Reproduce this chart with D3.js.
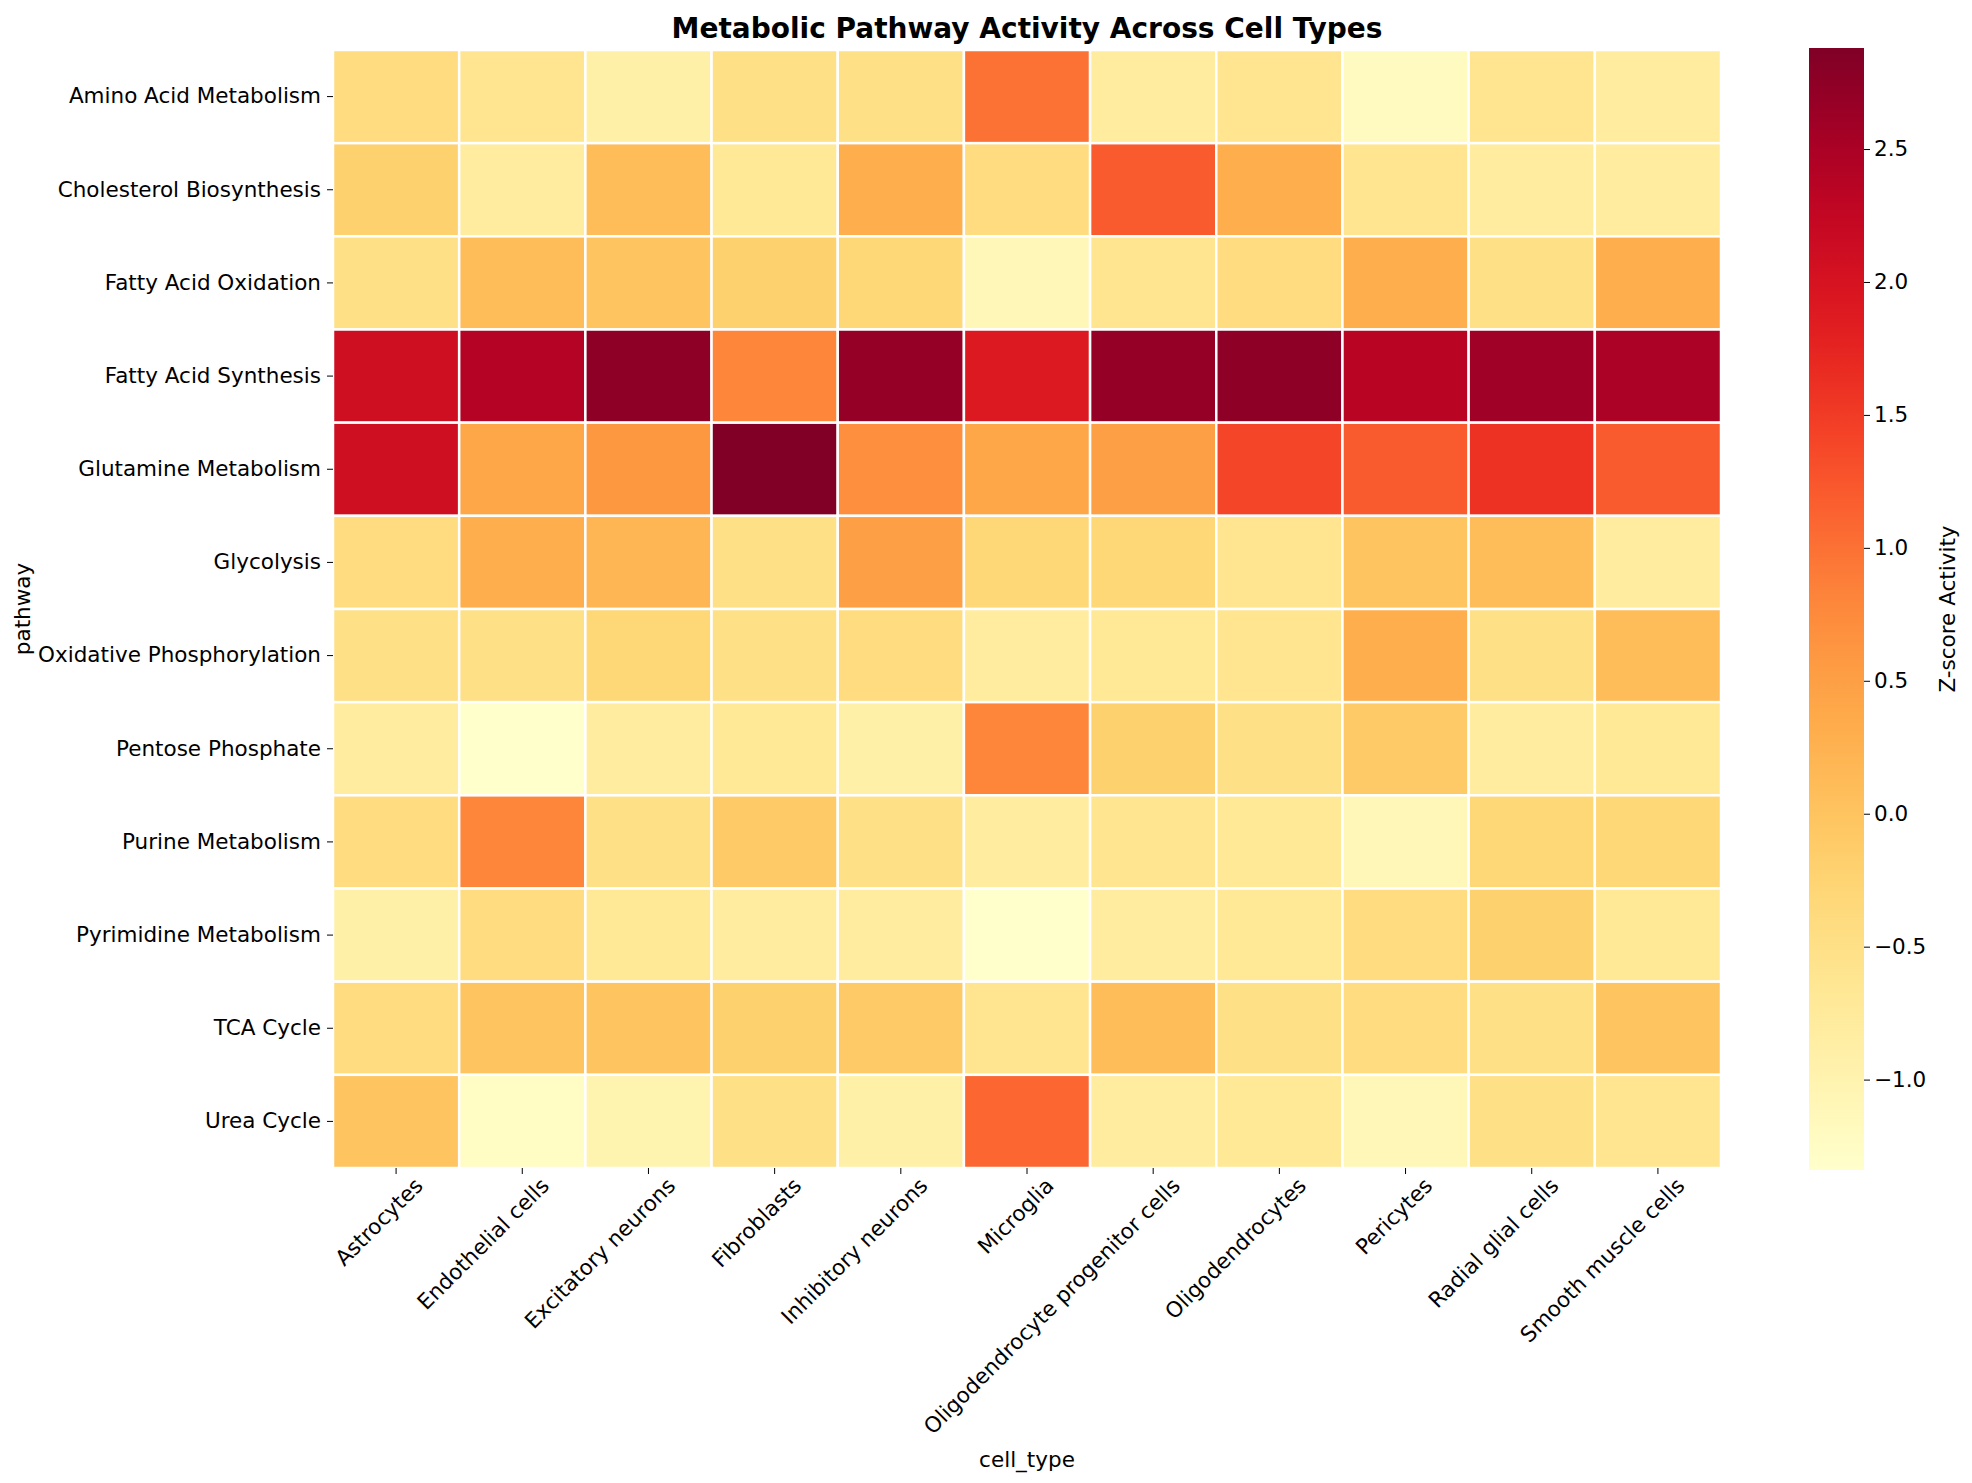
<!DOCTYPE html><html><head><meta charset="utf-8">
<script src="https://cdn.jsdelivr.net/npm/d3@7"></script>
<style>body{margin:0;background:#fff}text{font-family:"DejaVu Sans",sans-serif;fill:#000}</style>
</head><body><svg id="c" width="1972" height="1483"></svg><script>
const cellTypes=["Astrocytes","Endothelial cells","Excitatory neurons","Fibroblasts","Inhibitory neurons","Microglia","Oligodendrocyte progenitor cells","Oligodendrocytes","Pericytes","Radial glial cells","Smooth muscle cells"];
const pathways=["Amino Acid Metabolism","Cholesterol Biosynthesis","Fatty Acid Oxidation","Fatty Acid Synthesis","Glutamine Metabolism","Glycolysis","Oxidative Phosphorylation","Pentose Phosphate","Purine Metabolism","Pyrimidine Metabolism","TCA Cycle","Urea Cycle"];
const values=[
[-0.4,-0.6,-0.9,-0.5,-0.5,1.0,-0.8,-0.6,-1.2,-0.6,-0.8],
[-0.2,-0.8,0.1,-0.7,0.3,-0.4,1.2,0.3,-0.6,-0.8,-0.8],
[-0.5,0.1,0.0,-0.2,-0.3,-1.1,-0.6,-0.4,0.3,-0.5,0.3],
[2.1,2.4,2.75,0.8,2.7,1.9,2.7,2.75,2.35,2.6,2.5],
[2.1,0.4,0.6,2.88,0.7,0.4,0.5,1.4,1.2,1.6,1.2],
[-0.4,0.3,0.2,-0.5,0.5,-0.3,-0.3,-0.6,0.0,0.1,-0.8],
[-0.5,-0.5,-0.3,-0.5,-0.4,-0.8,-0.7,-0.6,0.3,-0.5,0.1],
[-0.8,-1.33,-0.8,-0.7,-0.9,0.8,-0.2,-0.5,-0.1,-0.8,-0.7],
[-0.4,0.8,-0.5,-0.1,-0.5,-0.8,-0.6,-0.7,-1.1,-0.3,-0.3],
[-0.9,-0.4,-0.7,-0.8,-0.8,-1.33,-0.8,-0.7,-0.4,-0.2,-0.7],
[-0.4,0.0,0.0,-0.2,-0.1,-0.6,0.1,-0.5,-0.4,-0.5,0.0],
[0.0,-1.25,-1.0,-0.5,-0.9,1.1,-0.8,-0.7,-1.1,-0.5,-0.6]];
const cbTicks=[-1.0,-0.5,0.0,0.5,1.0,1.5,2.0,2.5];
const vmin=-1.34,vmax=2.88;
const svg=d3.select("#c");
const L=333,R=1721,T=50,B=1168;
const x=d3.scaleBand().domain(cellTypes).range([L,R]);
const y=d3.scaleBand().domain(pathways).range([T,B]);
const col=d3.scaleSequential(d3.interpolateYlOrRd).domain([vmin,vmax]);
const cells=[];values.forEach((r,i)=>r.forEach((v,j)=>cells.push({p:pathways[i],c:cellTypes[j],v})));
svg.append("g").selectAll("rect").data(cells).join("rect")
 .attr("x",d=>x(d.c)).attr("y",d=>y(d.p)).attr("width",x.bandwidth()).attr("height",y.bandwidth())
 .attr("fill",d=>col(d.v)).attr("stroke","#fff").attr("stroke-width",2.5);
const fs="21.5px";
const xa=svg.append("g").attr("transform",`translate(0,${B})`).call(d3.axisBottom(x).tickSize(6).tickSizeOuter(0));
xa.select(".domain").remove();
xa.selectAll("text").style("font-size",fs).attr("text-anchor","end").attr("dx","0.3em").attr("dy","0.9em")
 .attr("transform","rotate(-45)").attr("y",14).attr("x",0);
const ya=svg.append("g").attr("transform",`translate(${L},0)`).call(d3.axisLeft(y).tickSize(6).tickSizeOuter(0));
ya.select(".domain").remove();
ya.selectAll("text").style("font-size",fs).attr("x",-12);
svg.append("text").attr("x",(L+R)/2).attr("y",1467).attr("text-anchor","middle").style("font-size",fs).text("cell_type");
svg.append("text").attr("transform",`translate(30,${(T+B)/2}) rotate(-90)`).attr("text-anchor","middle").style("font-size",fs).text("pathway");
svg.append("text").attr("x",(L+R)/2).attr("y",38).attr("text-anchor","middle").style("font-size","28px").style("font-weight","bold").text("Metabolic Pathway Activity Across Cell Types");
const cx=1809,cw=55,cT=48,cB=1170;
const cy=d3.scaleLinear().domain([vmin,vmax]).range([cB,cT]);
const defs=svg.append("defs");const g=defs.append("linearGradient").attr("id","cg").attr("x1",0).attr("x2",0).attr("y1",1).attr("y2",0);
d3.range(0,1.001,0.05).forEach(t=>g.append("stop").attr("offset",t).attr("stop-color",col(vmin+t*(vmax-vmin))));
svg.append("rect").attr("x",cx).attr("y",cT).attr("width",cw).attr("height",cB-cT).attr("fill","url(#cg)");
const ca=svg.append("g").attr("transform",`translate(${cx+cw},0)`).call(d3.axisRight(cy).tickValues(cbTicks).tickFormat(d=>d<0?"−"+Math.abs(d).toFixed(1):d.toFixed(1)).tickSize(6).tickSizeOuter(0));
ca.select(".domain").remove();ca.selectAll("text").style("font-size",fs).attr("x",10);
svg.append("text").attr("transform",`translate(1955,${(cT+cB)/2}) rotate(-90)`).attr("text-anchor","middle").style("font-size",fs).text("Z-score Activity");
</script></body></html>
